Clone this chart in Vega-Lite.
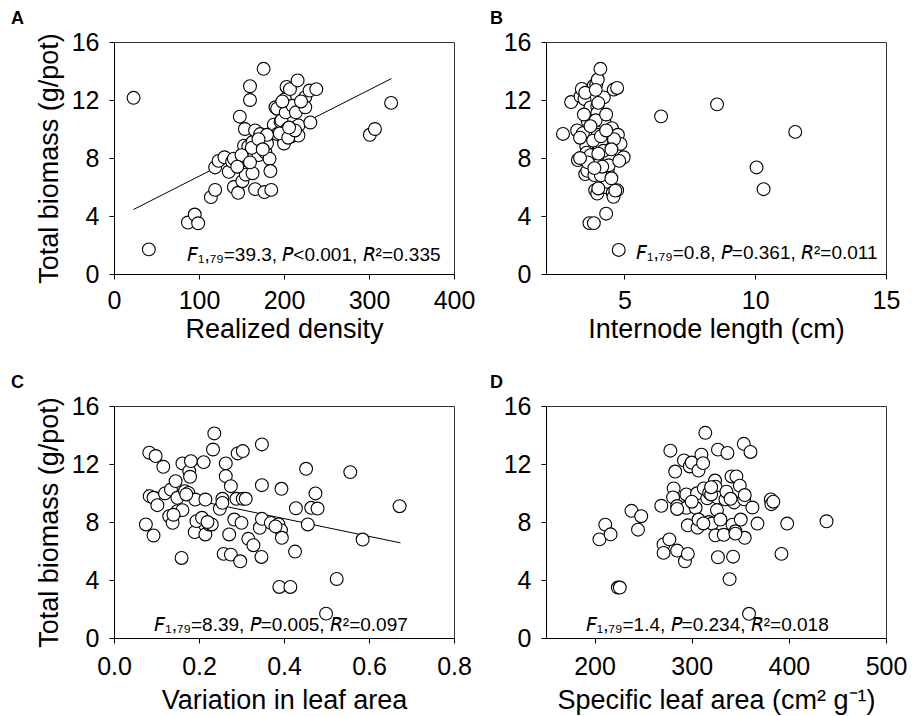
{
  "$schema": "https://vega.github.io/schema/vega-lite/v6.json",
  "padding": {"left": 10, "top": 9, "right": 5, "bottom": 5},
  "bounds": "flush",
  "columns": 2,
  "spacing": {"row": 132, "column": 92},
  "datasets": {
    "dens": [
      {"density": 23, "biomass": 12.15}, {"density": 41, "biomass": 1.7}, {"density": 87, "biomass": 3.55}, {"density": 95, "biomass": 4.1},
      {"density": 99, "biomass": 3.5}, {"density": 114, "biomass": 5.3}, {"density": 119, "biomass": 5.8}, {"density": 119, "biomass": 7.35},
      {"density": 123, "biomass": 7.8}, {"density": 130, "biomass": 8.05}, {"density": 135, "biomass": 7.05}, {"density": 139, "biomass": 7.75},
      {"density": 141, "biomass": 7.95}, {"density": 141, "biomass": 6.0}, {"density": 146, "biomass": 5.6}, {"density": 148, "biomass": 10.85},
      {"density": 151, "biomass": 6.4}, {"density": 152, "biomass": 8.3}, {"density": 153, "biomass": 8.85}, {"density": 154, "biomass": 10.0},
      {"density": 155, "biomass": 7.0}, {"density": 155, "biomass": 6.85}, {"density": 157, "biomass": 7.9}, {"density": 158, "biomass": 8.8},
      {"density": 160, "biomass": 12.95}, {"density": 160, "biomass": 12.0}, {"density": 163, "biomass": 9.1}, {"density": 163, "biomass": 6.95},
      {"density": 165, "biomass": 8.15}, {"density": 166, "biomass": 5.85}, {"density": 166, "biomass": 9.9}, {"density": 170, "biomass": 8.2},
      {"density": 172, "biomass": 9.65}, {"density": 176, "biomass": 14.15}, {"density": 177, "biomass": 5.65}, {"density": 178, "biomass": 8.4},
      {"density": 180, "biomass": 9.0}, {"density": 183, "biomass": 7.95}, {"density": 184, "biomass": 7.1}, {"density": 185, "biomass": 5.8},
      {"density": 186, "biomass": 9.7}, {"density": 188, "biomass": 9.9}, {"density": 188, "biomass": 10.3}, {"density": 190, "biomass": 11.5},
      {"density": 192, "biomass": 9.65}, {"density": 192, "biomass": 11.4}, {"density": 196, "biomass": 10.5}, {"density": 197, "biomass": 10.6},
      {"density": 200, "biomass": 9.0}, {"density": 201, "biomass": 12.05}, {"density": 202, "biomass": 11.15}, {"density": 203, "biomass": 12.9},
      {"density": 204, "biomass": 10.0}, {"density": 207, "biomass": 12.75}, {"density": 209, "biomass": 9.5}, {"density": 210, "biomass": 11.6},
      {"density": 214, "biomass": 11.15}, {"density": 216, "biomass": 13.35}, {"density": 217, "biomass": 10.25}, {"density": 217, "biomass": 9.55},
      {"density": 225, "biomass": 12.2}, {"density": 225, "biomass": 11.5}, {"density": 230, "biomass": 12.65}, {"density": 231, "biomass": 10.45},
      {"density": 238, "biomass": 12.75}, {"density": 301, "biomass": 9.6}, {"density": 307, "biomass": 10.0}, {"density": 326, "biomass": 11.8},
      {"density": 180, "biomass": 9.6}, {"density": 195, "biomass": 9.7}, {"density": 205, "biomass": 9.4}, {"density": 213, "biomass": 9.9},
      {"density": 162, "biomass": 8.7}, {"density": 150, "biomass": 8.2}, {"density": 170, "biomass": 9.3}, {"density": 206, "biomass": 10.1},
      {"density": 198, "biomass": 11.9}, {"density": 175, "biomass": 8.6}, {"density": 220, "biomass": 11.9}, {"density": 145, "biomass": 7.4},
      {"density": 160, "biomass": 7.7}
    ],
    "densFit": [{"density": 23, "biomass": 4.45}, {"density": 326.5, "biomass": 13.48}],
    "inter": [
      {"internode": 2.65, "biomass": 9.66}, {"internode": 2.96, "biomass": 11.86}, {"internode": 3.19, "biomass": 9.9}, {"internode": 3.22, "biomass": 7.86},
      {"internode": 3.32, "biomass": 12.25}, {"internode": 3.37, "biomass": 12.76}, {"internode": 3.41, "biomass": 9.71}, {"internode": 3.47, "biomass": 12.07},
      {"internode": 3.5, "biomass": 6.89}, {"internode": 3.54, "biomass": 8.79}, {"internode": 3.55, "biomass": 8.37}, {"internode": 3.58, "biomass": 7.12},
      {"internode": 3.6, "biomass": 10.52}, {"internode": 3.66, "biomass": 3.51}, {"internode": 3.7, "biomass": 11.49}, {"internode": 3.83, "biomass": 13.0},
      {"internode": 3.83, "biomass": 3.51}, {"internode": 3.85, "biomass": 6.82}, {"internode": 3.88, "biomass": 5.78}, {"internode": 3.92, "biomass": 13.06},
      {"internode": 3.96, "biomass": 5.55}, {"internode": 3.96, "biomass": 11.56}, {"internode": 3.96, "biomass": 11.1}, {"internode": 3.98, "biomass": 13.41},
      {"internode": 3.96, "biomass": 9.99}, {"internode": 3.98, "biomass": 9.6}, {"internode": 4.0, "biomass": 7.9}, {"internode": 4.05, "biomass": 8.79},
      {"internode": 4.08, "biomass": 14.15}, {"internode": 4.15, "biomass": 8.97}, {"internode": 4.21, "biomass": 12.18}, {"internode": 4.24, "biomass": 10.45},
      {"internode": 4.26, "biomass": 9.71}, {"internode": 4.3, "biomass": 4.16}, {"internode": 4.33, "biomass": 5.97}, {"internode": 4.36, "biomass": 7.12},
      {"internode": 4.36, "biomass": 6.36}, {"internode": 4.39, "biomass": 7.86}, {"internode": 4.43, "biomass": 8.09}, {"internode": 4.52, "biomass": 10.06},
      {"internode": 4.55, "biomass": 5.6}, {"internode": 4.58, "biomass": 5.32}, {"internode": 4.58, "biomass": 8.97}, {"internode": 4.59, "biomass": 12.72},
      {"internode": 4.72, "biomass": 12.83}, {"internode": 4.72, "biomass": 5.78}, {"internode": 4.75, "biomass": 9.6}, {"internode": 4.78, "biomass": 1.66},
      {"internode": 4.85, "biomass": 8.97}, {"internode": 4.97, "biomass": 8.05}, {"internode": 6.4, "biomass": 10.87}, {"internode": 8.54, "biomass": 11.7},
      {"internode": 10.05, "biomass": 7.35}, {"internode": 10.32, "biomass": 5.85}, {"internode": 11.53, "biomass": 9.8},
      {"internode": 3.3, "biomass": 9.4}, {"internode": 3.7, "biomass": 8.2}, {"internode": 3.8, "biomass": 9.2}, {"internode": 4.1, "biomass": 9.5},
      {"internode": 4.2, "biomass": 8.5}, {"internode": 3.9, "biomass": 10.6}, {"internode": 4.6, "biomass": 9.3}, {"internode": 4.4, "biomass": 7.5},
      {"internode": 3.6, "biomass": 7.7}, {"internode": 4.1, "biomass": 6.8}, {"internode": 3.5, "biomass": 12.5}, {"internode": 4.0, "biomass": 11.8},
      {"internode": 4.3, "biomass": 11.0}, {"internode": 3.3, "biomass": 8.0}, {"internode": 4.5, "biomass": 6.6}, {"internode": 4.8, "biomass": 7.8},
      {"internode": 4.0, "biomass": 8.3}, {"internode": 3.7, "biomass": 10.2}, {"internode": 4.65, "biomass": 5.75}, {"internode": 3.9, "biomass": 12.7},
      {"internode": 4.3, "biomass": 9.9}, {"internode": 3.45, "biomass": 11.0}, {"internode": 4.15, "biomass": 7.4}, {"internode": 3.85, "biomass": 7.3},
      {"internode": 4.5, "biomass": 8.6}, {"internode": 4.0, "biomass": 5.9}
    ],
    "vla": [
      {"variation": 0.075, "biomass": 7.83}, {"variation": 0.083, "biomass": 12.78}, {"variation": 0.084, "biomass": 9.78}, {"variation": 0.093, "biomass": 9.67},
      {"variation": 0.093, "biomass": 7.07}, {"variation": 0.098, "biomass": 12.55}, {"variation": 0.102, "biomass": 9.16}, {"variation": 0.116, "biomass": 11.81},
      {"variation": 0.12, "biomass": 9.97}, {"variation": 0.13, "biomass": 8.4}, {"variation": 0.134, "biomass": 10.24}, {"variation": 0.138, "biomass": 7.94},
      {"variation": 0.145, "biomass": 10.82}, {"variation": 0.149, "biomass": 9.67}, {"variation": 0.149, "biomass": 8.75}, {"variation": 0.159, "biomass": 5.52},
      {"variation": 0.161, "biomass": 12.04}, {"variation": 0.161, "biomass": 8.82}, {"variation": 0.167, "biomass": 10.13}, {"variation": 0.175, "biomass": 10.01},
      {"variation": 0.177, "biomass": 11.51}, {"variation": 0.179, "biomass": 11.12}, {"variation": 0.181, "biomass": 12.2}, {"variation": 0.19, "biomass": 7.3},
      {"variation": 0.191, "biomass": 9.55}, {"variation": 0.194, "biomass": 8.06}, {"variation": 0.207, "biomass": 8.29}, {"variation": 0.211, "biomass": 12.13},
      {"variation": 0.215, "biomass": 9.55}, {"variation": 0.215, "biomass": 7.14}, {"variation": 0.224, "biomass": 7.83}, {"variation": 0.23, "biomass": 7.83},
      {"variation": 0.233, "biomass": 13.0}, {"variation": 0.236, "biomass": 14.11}, {"variation": 0.249, "biomass": 8.91}, {"variation": 0.255, "biomass": 9.6},
      {"variation": 0.255, "biomass": 9.32}, {"variation": 0.258, "biomass": 5.8}, {"variation": 0.263, "biomass": 12.04}, {"variation": 0.263, "biomass": 11.16},
      {"variation": 0.271, "biomass": 7.14}, {"variation": 0.275, "biomass": 10.47}, {"variation": 0.275, "biomass": 5.75}, {"variation": 0.283, "biomass": 8.17},
      {"variation": 0.288, "biomass": 9.6}, {"variation": 0.291, "biomass": 12.73}, {"variation": 0.297, "biomass": 5.29}, {"variation": 0.3, "biomass": 7.94},
      {"variation": 0.303, "biomass": 12.89}, {"variation": 0.303, "biomass": 9.6}, {"variation": 0.316, "biomass": 6.84}, {"variation": 0.328, "biomass": 6.4},
      {"variation": 0.343, "biomass": 7.6}, {"variation": 0.347, "biomass": 5.59}, {"variation": 0.348, "biomass": 8.22}, {"variation": 0.348, "biomass": 10.54},
      {"variation": 0.348, "biomass": 13.35}, {"variation": 0.369, "biomass": 7.94}, {"variation": 0.387, "biomass": 7.83}, {"variation": 0.389, "biomass": 3.52},
      {"variation": 0.393, "biomass": 7.44}, {"variation": 0.394, "biomass": 10.29}, {"variation": 0.395, "biomass": 6.91}, {"variation": 0.415, "biomass": 3.52},
      {"variation": 0.426, "biomass": 5.96}, {"variation": 0.428, "biomass": 8.95}, {"variation": 0.452, "biomass": 11.67}, {"variation": 0.456, "biomass": 7.83},
      {"variation": 0.464, "biomass": 8.98}, {"variation": 0.474, "biomass": 9.97}, {"variation": 0.479, "biomass": 8.93}, {"variation": 0.499, "biomass": 1.68},
      {"variation": 0.524, "biomass": 4.07}, {"variation": 0.556, "biomass": 11.44}, {"variation": 0.585, "biomass": 6.79}, {"variation": 0.672, "biomass": 9.09},
      {"variation": 0.17, "biomass": 9.9}, {"variation": 0.14, "biomass": 8.5}, {"variation": 0.31, "biomass": 9.6}, {"variation": 0.22, "biomass": 8.0},
      {"variation": 0.38, "biomass": 7.7}
    ],
    "vlaFit": [{"variation": 0.075, "biomass": 10.22}, {"variation": 0.674, "biomass": 6.56}],
    "sla": [
      {"sla": 205, "biomass": 6.8}, {"sla": 211, "biomass": 7.82}, {"sla": 216.5, "biomass": 7.15}, {"sla": 224, "biomass": 3.48},
      {"sla": 226, "biomass": 3.48}, {"sla": 238, "biomass": 8.77}, {"sla": 244.7, "biomass": 7.47}, {"sla": 248, "biomass": 8.4},
      {"sla": 268.7, "biomass": 9.12}, {"sla": 271, "biomass": 6.45}, {"sla": 271, "biomass": 5.87}, {"sla": 277, "biomass": 6.8},
      {"sla": 278, "biomass": 12.92}, {"sla": 281.4, "biomass": 10.32}, {"sla": 280.8, "biomass": 9.7}, {"sla": 283, "biomass": 11.48},
      {"sla": 285, "biomass": 6.03}, {"sla": 285, "biomass": 9.1}, {"sla": 292, "biomass": 12.25}, {"sla": 293, "biomass": 5.29},
      {"sla": 294.5, "biomass": 9.9}, {"sla": 294.5, "biomass": 8.98}, {"sla": 296, "biomass": 7.77}, {"sla": 296, "biomass": 5.8},
      {"sla": 298, "biomass": 11.83}, {"sla": 300, "biomass": 12.1}, {"sla": 304, "biomass": 8.98}, {"sla": 305.5, "biomass": 9.98},
      {"sla": 306, "biomass": 7.61}, {"sla": 307, "biomass": 8.17}, {"sla": 307, "biomass": 11.55}, {"sla": 310, "biomass": 12.64},
      {"sla": 311.7, "biomass": 12.06}, {"sla": 312.4, "biomass": 10.32}, {"sla": 314, "biomass": 14.15}, {"sla": 316, "biomass": 9.63},
      {"sla": 317.5, "biomass": 8.0}, {"sla": 318, "biomass": 10.02}, {"sla": 321, "biomass": 7.89}, {"sla": 324, "biomass": 10.86},
      {"sla": 324.4, "biomass": 7.08}, {"sla": 324.4, "biomass": 10.44}, {"sla": 326, "biomass": 9.7}, {"sla": 326, "biomass": 8.82},
      {"sla": 327, "biomass": 12.99}, {"sla": 327, "biomass": 5.57}, {"sla": 329.5, "biomass": 8.17}, {"sla": 333, "biomass": 7.12},
      {"sla": 334.7, "biomass": 9.56}, {"sla": 335.7, "biomass": 10.09}, {"sla": 336.8, "biomass": 12.76}, {"sla": 339, "biomass": 4.06},
      {"sla": 341, "biomass": 11.14}, {"sla": 342, "biomass": 7.82}, {"sla": 342.6, "biomass": 5.61}, {"sla": 343.6, "biomass": 9.35},
      {"sla": 345, "biomass": 7.36}, {"sla": 346, "biomass": 11.14}, {"sla": 349.5, "biomass": 10.51}, {"sla": 350.5, "biomass": 8.17},
      {"sla": 353.6, "biomass": 13.39}, {"sla": 354, "biomass": 9.56}, {"sla": 354.6, "biomass": 6.91}, {"sla": 354.6, "biomass": 9.86},
      {"sla": 359, "biomass": 1.67}, {"sla": 360.5, "biomass": 12.83}, {"sla": 362.5, "biomass": 9.0}, {"sla": 367.7, "biomass": 7.89},
      {"sla": 381.4, "biomass": 9.56}, {"sla": 382, "biomass": 9.23}, {"sla": 384, "biomass": 9.4}, {"sla": 392.4, "biomass": 5.8},
      {"sla": 398.3, "biomass": 7.89}, {"sla": 438.8, "biomass": 8.05},
      {"sla": 320, "biomass": 9.9}, {"sla": 300, "biomass": 9.4}, {"sla": 285, "biomass": 8.9}, {"sla": 340, "biomass": 9.6},
      {"sla": 312, "biomass": 7.9}, {"sla": 345, "biomass": 7.2}, {"sla": 320, "biomass": 10.4}
    ]
  },
  "concat": [
    {
      "width": 340, "height": 232,
      "title": {"text": "A", "dx": -103},
      "layer": [
        {
          "data": {"name": "densFit"},
          "mark": {"type": "line", "color": "#000", "strokeWidth": 1},
          "encoding": {
            "x": {"field": "density", "type": "quantitative"},
            "y": {"field": "biomass", "type": "quantitative"}
          }
        },
        {
          "data": {"name": "dens"},
          "mark": {"type": "circle", "size": 165, "fill": "#fff", "stroke": "#000", "strokeWidth": 1.1, "opacity": 1},
          "encoding": {
            "x": {"field": "density", "type": "quantitative", "scale": {"domain": [0, 400], "nice": false},
                  "axis": {"values": [0, 100, 200, 300, 400], "title": "Realized density", "labelPadding": 9, "titlePadding": 3}},
            "y": {"field": "biomass", "type": "quantitative", "scale": {"domain": [0, 16], "nice": false},
                  "axis": {"values": [0, 4, 8, 12, 16], "title": "Total biomass (g/pot)"}}
          }
        },
        {
          "data": {"values": [{"label": "𝘍₁,₇₉=39.3, 𝘗<0.001, 𝘙²=0.335"}]},
          "mark": {"type": "text", "fontSize": 19, "align": "center", "baseline": "alphabetic", "color": "#000"},
          "encoding": {"x": {"datum": 235}, "y": {"datum": 0.92}, "text": {"field": "label"}}
        }
      ]
    },
    {
      "width": 340, "height": 232,
      "title": {"text": "B", "dx": -56},
      "layer": [
        {
          "data": {"name": "inter"},
          "mark": {"type": "circle", "size": 165, "fill": "#fff", "stroke": "#000", "strokeWidth": 1.1, "opacity": 1},
          "encoding": {
            "x": {"field": "internode", "type": "quantitative", "scale": {"domain": [2, 15], "nice": false, "zero": false},
                  "axis": {"values": [5, 10, 15], "title": "Internode length (cm)", "labelPadding": 9, "titlePadding": 3}},
            "y": {"field": "biomass", "type": "quantitative", "scale": {"domain": [0, 16], "nice": false},
                  "axis": {"values": [0, 4, 8, 12, 16], "title": null}}
          }
        },
        {
          "data": {"values": [{"label": "𝘍₁,₇₉=0.8, 𝘗=0.361, 𝘙²=0.011"}]},
          "mark": {"type": "text", "fontSize": 19, "align": "center", "baseline": "alphabetic", "color": "#000"},
          "encoding": {"x": {"datum": 10.06}, "y": {"datum": 1.03}, "text": {"field": "label"}}
        }
      ]
    },
    {
      "width": 340, "height": 232,
      "title": {"text": "C", "dx": -103},
      "layer": [
        {
          "data": {"name": "vlaFit"},
          "mark": {"type": "line", "color": "#000", "strokeWidth": 1},
          "encoding": {
            "x": {"field": "variation", "type": "quantitative"},
            "y": {"field": "biomass", "type": "quantitative"}
          }
        },
        {
          "data": {"name": "vla"},
          "mark": {"type": "circle", "size": 165, "fill": "#fff", "stroke": "#000", "strokeWidth": 1.1, "opacity": 1},
          "encoding": {
            "x": {"field": "variation", "type": "quantitative", "scale": {"domain": [0, 0.8], "nice": false},
                  "axis": {"values": [0, 0.2, 0.4, 0.6, 0.8], "format": ".1f", "title": "Variation in leaf area", "labelPadding": 11, "titlePadding": 8}},
            "y": {"field": "biomass", "type": "quantitative", "scale": {"domain": [0, 16], "nice": false},
                  "axis": {"values": [0, 4, 8, 12, 16], "title": "Total biomass (g/pot)"}}
          }
        },
        {
          "data": {"values": [{"label": "𝘍₁,₇₉=8.39, 𝘗=0.005, 𝘙²=0.097"}]},
          "mark": {"type": "text", "fontSize": 19, "align": "center", "baseline": "alphabetic", "color": "#000"},
          "encoding": {"x": {"datum": 0.393}, "y": {"datum": 0.5}, "text": {"field": "label"}}
        }
      ]
    },
    {
      "width": 340, "height": 232,
      "title": {"text": "D", "dx": -56},
      "layer": [
        {
          "data": {"name": "sla"},
          "mark": {"type": "circle", "size": 165, "fill": "#fff", "stroke": "#000", "strokeWidth": 1.1, "opacity": 1},
          "encoding": {
            "x": {"field": "sla", "type": "quantitative", "scale": {"domain": [150, 500], "nice": false, "zero": false},
                  "axis": {"values": [200, 300, 400, 500], "title": "Specific leaf area (cm² g⁻¹)", "labelPadding": 11, "titlePadding": 8}},
            "y": {"field": "biomass", "type": "quantitative", "scale": {"domain": [0, 16], "nice": false},
                  "axis": {"values": [0, 4, 8, 12, 16], "title": null}}
          }
        },
        {
          "data": {"values": [{"label": "𝘍₁,₇₉=1.4, 𝘗=0.234, 𝘙²=0.018"}]},
          "mark": {"type": "text", "fontSize": 19, "align": "center", "baseline": "alphabetic", "color": "#000"},
          "encoding": {"x": {"datum": 316}, "y": {"datum": 0.47}, "text": {"field": "label"}}
        }
      ]
    }
  ],
  "config": {
    "font": "Liberation Sans",
    "view": {"stroke": "#333", "strokeWidth": 1},
    "axis": {
      "grid": false, "domainColor": "#000", "tickColor": "#000", "labelColor": "#000", "titleColor": "#000",
      "labelFont": "Liberation Sans", "titleFont": "Liberation Sans", "labelFontSize": 25, "titleFontSize": 27,
      "titleFontWeight": "normal", "tickSize": 5, "labelFlush": false, "labelOverlap": false
    },
    "axisY": {"labelPadding": 10, "titlePadding": 8},
    "title": {"font": "Liberation Sans", "fontSize": 18, "fontWeight": "bold", "anchor": "start", "frame": "group", "offset": 2, "color": "#000"}
  }
}
